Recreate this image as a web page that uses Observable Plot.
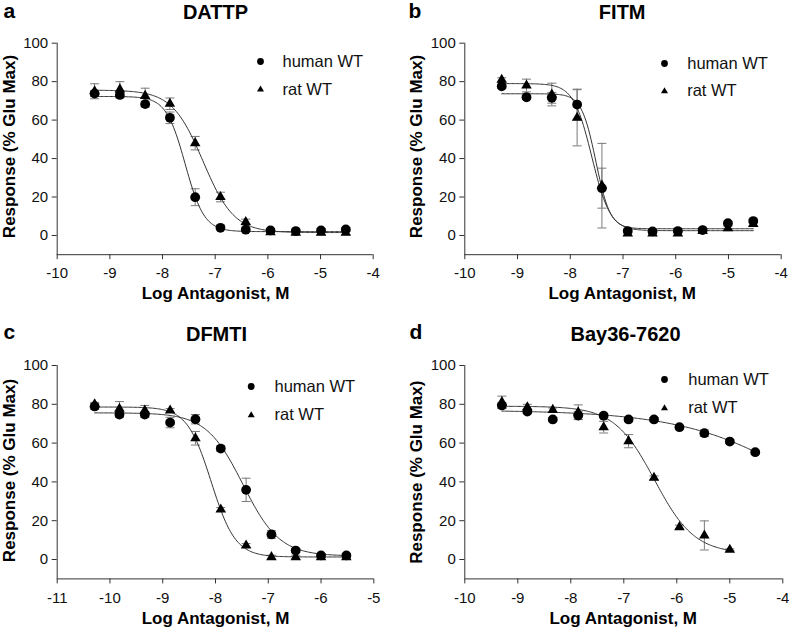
<!DOCTYPE html>
<html><head><meta charset="utf-8">
<script src="https://cdn.jsdelivr.net/npm/d3@7"></script>
<script src="https://cdn.jsdelivr.net/npm/@observablehq/plot@0.6"></script>
<style>
body{margin:0;background:#fff;}
#wrap{position:relative;width:789px;height:629px;overflow:hidden;background:#fff;}
#wrap svg{position:absolute;}
</style></head><body><div id="wrap"></div>
<script>
// ---------- data (log molar antagonist concentration, % Glu max, SEM) ----------
const seriesNames = ["human WT", "rat WT"];

const titleA = "DATTP";
const doseA = [-9.29,-8.81,-8.33,-7.86,-7.38,-6.90,-6.42,-5.95,-5.47,-4.99,-4.52];
const humanA = [73.8,73.1,68.3,61.2,19.9,4.0,3.0,2.6,2.3,2.6,3.1];
const humanAErr = [1.5,1.5,1.5,3,4.4,1,1,1,1,1,1];
const ratA = [75.0,76.0,72.6,68.5,48.0,20.0,7.0,1.7,1.4,1.4,1.4];
const ratAErr = [3.9,4,4,3,3.5,2.5,1.5,1,1,1,1];
const fitAHuman = [72.3,2.0,-7.57,2.4];   // top, bottom, logIC50, hill
const fitARat = [75.6,1.5,-7.23,1.48];

const titleB = "FITM";
const doseB = [-9.30,-8.83,-8.35,-7.87,-7.40,-6.91,-6.44,-5.96,-5.49,-5.01,-4.53];
const humanB = [77.6,71.9,71.6,68.1,24.6,2.3,2.1,2.3,2.8,6.4,7.5];
const humanBErr = [1,1,2.8,8,10.4,1,1,1,1,1,1];
const ratB = [81,78,73.3,61.2,25.9,1,1,1,2.3,3.8,6];
const ratBErr = [1,3.3,5.9,14.6,22,1,1,1,1,1,1];
const fitBHuman = [73.7,3.5,-7.515,3.2];
const fitBRat = [79.0,2.5,-7.59,2.5];

const titleC = "DFMTI";
const doseC = [-10.29,-9.82,-9.34,-8.86,-8.38,-7.90,-7.42,-6.94,-6.48,-6.0,-5.52];
const humanC = [78.9,74.7,74.7,70.6,72.3,57.2,35.9,12.9,4.6,2.1,2.1];
const humanCErr = [1.5,1.5,1.5,2.7,2.4,1.5,6,2,1,1,1];
const ratC = [80,77.7,76.8,76.8,62.5,25.8,7.2,1.2,1.2,1.2,1.2];
const ratCErr = [1,3.7,2.6,1,3.5,1,1,1,1,1,1];
const fitCHuman = [75.6,1.8,-7.48,1.25];
const fitCRat = [78.6,1.3,-8.08,1.9];

const titleD = "Bay36-7620";
const doseD = [-9.30,-8.82,-8.34,-7.86,-7.38,-6.91,-6.43,-5.95,-5.48,-5.0,-4.52];
const humanD = [79.4,76.3,72.2,74.2,74.1,72.2,72.2,68.2,65.1,60.8,55.3];
const humanDErr = [1.5,1,1,2,1,1,1,1,1.7,1,1];
const doseDRat = [-9.30,-8.82,-8.34,-7.86,-7.38,-6.91,-6.43,-5.95,-5.48,-5.0];
const ratD = [81.1,78.5,77.1,75.9,68.2,61,42.1,16.7,12.4,5];
const ratDErr = [3.1,1.5,1,3.8,3,3.4,1,1,7.5,0.5];
const fitDHuman = [77,0,-3.41,0.37];
const fitDRat = [79,3,-6.42,1.15];

const yTicks = [0,20,40,60,80,100];
const xTicksABD = [-10,-9,-8,-7,-6,-5,-4];
const xTicksC = [-11,-10,-9,-8,-7,-6,-5];
const xLabel = "Log Antagonist, M";
const yLabel = "Response (% Glu Max)";

// ---------- helpers ----------
const FONT = "'Liberation Sans', Arial, Helvetica, sans-serif";
const rows = (xs, ys, es) => xs.map((x, i) => ({x, y: ys[i], e: es[i]}));
const fitCurve = (p, x0, x1) => {
  const [top, bottom, c, h] = p;
  return d3.range(0, 201).map(i => {
    const x = x0 + (x1 - x0) * i / 200;
    return {x, y: bottom + (top - bottom) / (1 + Math.pow(10, (x - c) * h))};
  });
};
const capSymbol = {draw(ctx, size) { const w = Math.sqrt(size / Math.PI); ctx.moveTo(-w, 0); ctx.lineTo(w, 0); }};

function panel(cfg) {
  const {left, top, width, height, ml, mr, mt, mb, xdom, xticks, human, rat, fitH, fitR, hRange, rRange, L} = cfg;
  const fx = ml + left, fy = mt + top; // absolute frame top-left
  const at = (ax, ay) => ({frameAnchor: "top-left", dx: ax - fx, dy: ay - fy});
  const errMarks = (d) => [
    Plot.ruleX(d, {x: "x", y1: r => r.y - r.e, y2: r => r.y + r.e, stroke: "#7a7a7a", strokeWidth: 1}),
    Plot.dot(d, {x: "x", y: r => r.y - r.e, symbol: capSymbol, r: 4.5, stroke: "#7a7a7a", fill: "none", strokeWidth: 1}),
    Plot.dot(d, {x: "x", y: r => r.y + r.e, symbol: capSymbol, r: 4.5, stroke: "#7a7a7a", fill: "none", strokeWidth: 1})
  ];
  const svg = Plot.plot({
    width, height, marginLeft: ml, marginRight: mr, marginTop: mt, marginBottom: mb,
    style: {fontFamily: FONT, color: "#111", background: "transparent", overflow: "visible"},
    x: {domain: xdom},
    y: {domain: [-10, 100]},
    marks: [
      ...errMarks(human), ...errMarks(rat),
      Plot.line(fitCurve(fitH, hRange[0], hRange[1]), {x: "x", y: "y", stroke: "#333", strokeWidth: 1}),
      Plot.line(fitCurve(fitR, rRange[0], rRange[1]), {x: "x", y: "y", stroke: "#333", strokeWidth: 1}),
      Plot.dot(rat, {x: "x", y: "y", symbol: "triangle", r: 3.9, fill: "#000", stroke: "none"}),
      Plot.dot(human, {x: "x", y: "y", symbol: "circle", r: 4.9, fill: "#000", stroke: "none"}),
      Plot.ruleX([xdom[0]], {stroke: "#333", strokeWidth: 1}),
      Plot.ruleY([-10], {stroke: "#333", strokeWidth: 1}),
      Plot.axisY({ticks: yTicks, tickSize: 5, tickPadding: 4, fontSize: 15, label: null, stroke: "#333", tickFormat: d => String(d)}),
      Plot.axisX({ticks: xticks, tickSize: 5, tickPadding: 8, fontSize: 15, label: null, stroke: "#333", tickFormat: d => String(d)}),
      // legend
      Plot.dot([0], {...at(L.mx, L.y1), r: 3.4, fill: "#000", symbol: "circle"}),
      Plot.dot([0], {...at(L.mx, L.y2), r: 2.6, fill: "#000", symbol: "triangle"}),
      Plot.text([seriesNames[0]], {...at(L.tx, L.y1), text: d => d, textAnchor: "start", lineAnchor: "middle", fontSize: 16.5, fill: "#111"}),
      Plot.text([seriesNames[1]], {...at(L.tx, L.y2), text: d => d, textAnchor: "start", lineAnchor: "middle", fontSize: 16.5, fill: "#111"}),
      // panel letter, title, axis labels
      Plot.text([cfg.letter], {...at(cfg.letterX, cfg.letterY), text: d => d, textAnchor: "start", lineAnchor: "bottom", fontSize: 21, fontWeight: "bold", fill: "#000"}),
      Plot.text([cfg.title], {...at(cfg.titleX, cfg.titleY), text: d => d, textAnchor: "middle", lineAnchor: "bottom", fontSize: 20, fontWeight: "bold", fill: "#000"}),
      Plot.text([xLabel], {...at(cfg.xlX, cfg.xlY), text: d => d, textAnchor: "middle", lineAnchor: "bottom", fontSize: 17, fontWeight: "bold", fill: "#000"}),
      Plot.text([yLabel], {...at(cfg.ylX, cfg.ylY), text: d => d, textAnchor: "middle", lineAnchor: "bottom", rotate: -90, fontSize: 17, fontWeight: "bold", fill: "#000"})
    ]
  });
  svg.style.left = left + "px";
  svg.style.top = top + "px";
  document.getElementById("wrap").appendChild(svg);
}

panel({letter: "a", title: titleA, left: 0, top: 0, width: 395, height: 310,
  ml: 56.7, mr: 22.3, mt: 42.7, mb: 55.8, xdom: [-10, -4], xticks: xTicksABD,
  human: rows(doseA, humanA, humanAErr), rat: rows(doseA, ratA, ratAErr),
  fitH: fitAHuman, fitR: fitARat, hRange: [doseA[0], doseA[doseA.length-1]], rRange: [doseA[0], doseA[doseA.length-1]],
  L: {mx: 260, tx: 282, y1: 61, y2: 89},
  letterX: 3, letterY: 17, titleX: 215, titleY: 18.5, xlX: 215, xlY: 298.5, ylX: 14, ylY: 146});

panel({letter: "b", title: titleB, left: 395, top: 0, width: 394, height: 310,
  ml: 69.3, mr: 8.3, mt: 42.7, mb: 55.8, xdom: [-10, -4], xticks: xTicksABD,
  human: rows(doseB, humanB, humanBErr), rat: rows(doseB, ratB, ratBErr),
  fitH: fitBHuman, fitR: fitBRat, hRange: [doseB[0], doseB[doseB.length-1]], rRange: [doseB[0], doseB[doseB.length-1]],
  L: {mx: 664, tx: 686.7, y1: 63, y2: 90.7},
  letterX: 408, letterY: 17, titleX: 621.7, titleY: 18.5, xlX: 621.7, xlY: 298.5, ylX: 421, ylY: 146});

panel({letter: "c", title: titleC, left: 0, top: 310, width: 395, height: 319,
  ml: 56.7, mr: 21.7, mt: 55, mb: 50.6, xdom: [-11, -5], xticks: xTicksC,
  human: rows(doseC, humanC, humanCErr), rat: rows(doseC, ratC, ratCErr),
  fitH: fitCHuman, fitR: fitCRat, hRange: [doseC[0], doseC[doseC.length-1]], rRange: [doseC[0], doseC[doseC.length-1]],
  L: {mx: 250.7, tx: 274, y1: 386, y2: 414.7},
  letterX: 3, letterY: 338, titleX: 216, titleY: 340.7, xlX: 215, xlY: 623.5, ylX: 14, ylY: 470});

panel({letter: "d", title: titleD, left: 395, top: 310, width: 394, height: 319,
  ml: 69.3, mr: 6.7, mt: 55, mb: 50.6, xdom: [-10, -4], xticks: xTicksABD,
  human: rows(doseD, humanD, humanDErr), rat: rows(doseDRat, ratD, ratDErr),
  fitH: fitDHuman, fitR: fitDRat, hRange: [doseD[0], doseD[doseD.length-1]], rRange: [doseDRat[0], doseDRat[doseDRat.length-1]],
  L: {mx: 664, tx: 687.7, y1: 379, y2: 407.7},
  letterX: 409, letterY: 338, titleX: 625, titleY: 340.7, xlX: 622.7, xlY: 623.5, ylX: 421, ylY: 471.7});
</script>
</body></html>
